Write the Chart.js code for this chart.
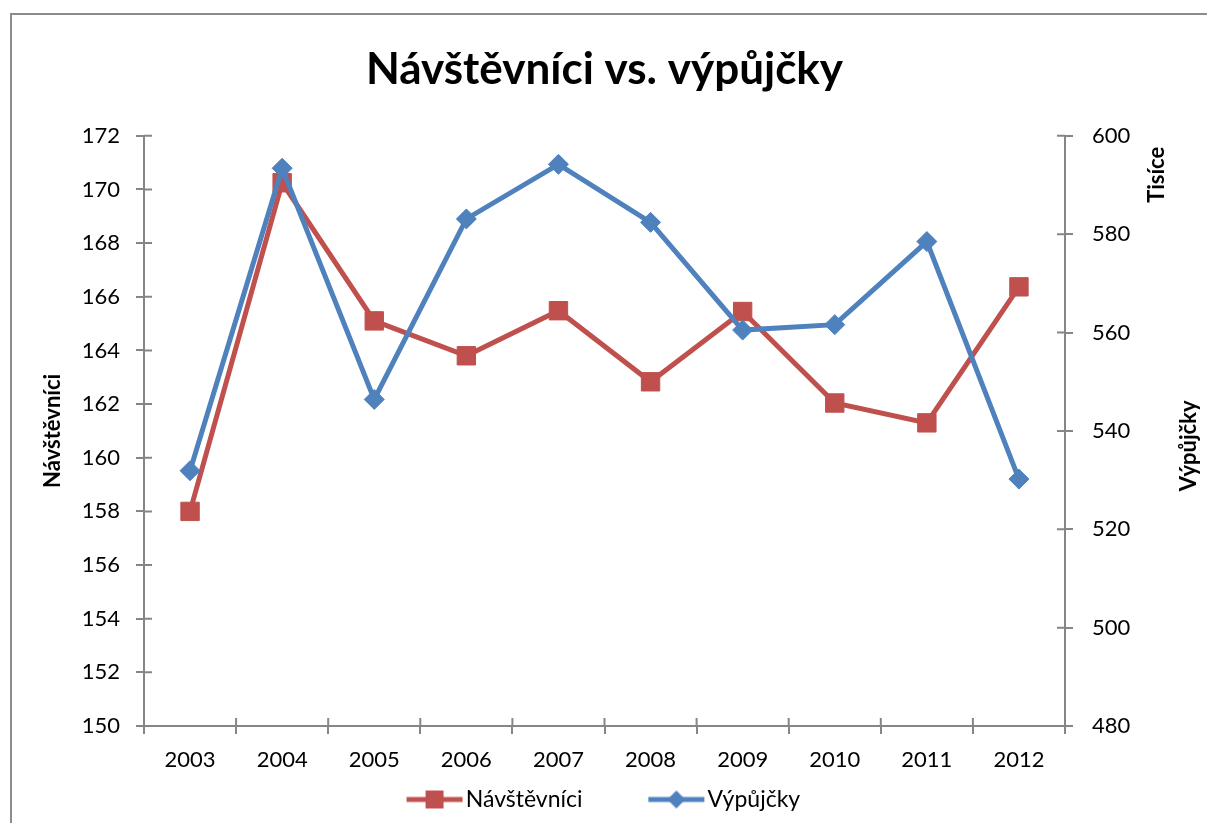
<!DOCTYPE html>
<html>
<head>
<meta charset="utf-8">
<script src="https://cdn.jsdelivr.net/npm/chart.js@4.4.1/dist/chart.umd.min.js"></script>
<style>
  html, body { margin: 0; padding: 0; background: #fff; overflow: hidden; width: 1207px; height: 823px; }
  #wrap { position: absolute; left: 0; top: 0; width: 1207px; height: 823px; }
  #frame { position: absolute; left: 10px; top: 13px; width: 1400px; height: 1000px; border: 2px solid #8c8c8c; box-sizing: border-box; pointer-events: none; }
</style>
</head>
<body>
<div id="wrap"><canvas id="c" width="1207" height="823"></canvas></div>
<div id="frame"></div>
<script>
// ---- data ----
const years = ['2003','2004','2005','2006','2007','2008','2009','2010','2011','2012'];
const visitors = [158.0, 170.25, 165.1, 163.8, 165.48, 162.83, 165.45, 162.04, 161.3, 166.37];
const loans = [531.9, 593.4, 546.4, 583.1, 594.2, 582.4, 560.5, 561.6, 578.5, 530.2]; // in thousands
const chartTitle = 'Návštěvníci vs. výpůjčky';
const seriesNames = ['Návštěvníci', 'Výpůjčky'];
const leftAxisTitle = 'Návštěvníci';
const rightAxisTitle = 'Výpůjčky';
const rightAxisUnit = 'Tisíce';

const RED = '#C0504D';
const BLUE = '#4F81BD';
const AXIS = '#868686';
const FONT = 'Lato';

Chart.defaults.font.family = FONT;
Chart.defaults.color = '#000';

function legendIcon(color, kind) {
  const cv = document.createElement('canvas');
  cv.width = 120; cv.height = 22;
  const g = cv.getContext('2d');
  const mx = 91, my = 11;
  g.strokeStyle = color; g.lineWidth = 5;
  g.beginPath(); g.moveTo(mx - 28, my); g.lineTo(mx + 28, my); g.stroke();
  g.fillStyle = color;
  if (kind === 'rect') {
    g.fillRect(mx - 9, my - 9, 18, 18);
  } else {
    g.beginPath();
    g.moveTo(mx, my - 9); g.lineTo(mx + 9, my); g.lineTo(mx, my + 9); g.lineTo(mx - 9, my); g.closePath(); g.fill();
  }
  return cv;
}
const icons = [legendIcon(RED, 'rect'), legendIcon(BLUE, 'diamond')];

const crossTicks = {
  id: 'crossTicks',
  beforeDatasetsDraw(chart) {
    const ctx = chart.ctx;
    const {x, y, y2} = chart.scales;
    ctx.save();
    ctx.strokeStyle = AXIS; ctx.lineWidth = 2;
    ctx.beginPath();
    y.ticks.forEach(t => { const py = y.getPixelForValue(t.value); ctx.moveTo(y.right, py); ctx.lineTo(y.right + 8, py); });
    y2.ticks.forEach(t => { const py = y2.getPixelForValue(t.value); ctx.moveTo(y2.left, py); ctx.lineTo(y2.left - 8, py); });
    for (let i = 0; i <= years.length; i++) {
      const px = x.getPixelForValue(i - 0.5);
      ctx.moveTo(px, x.top); ctx.lineTo(px, x.top - 8);
    }
    ctx.stroke();
    ctx.restore();
  }
};

const rightTitles = {
  id: 'rightTitles',
  afterDraw(chart) {
    const ctx = chart.ctx;
    const a = chart.chartArea;
    ctx.save();
    ctx.fillStyle = '#000';
    ctx.font = 'bold 22px ' + FONT;
    ctx.textAlign = 'center';
    ctx.textBaseline = 'middle';
    const drawRot = (txt, cx, cy) => {
      ctx.save(); ctx.translate(cx, cy); ctx.rotate(-Math.PI / 2); ctx.fillText(txt, 0, 0); ctx.restore();
    };
    drawRot(rightAxisUnit, a.right + 92, a.top + 39);
    drawRot(rightAxisTitle, a.right + 124, (a.top + a.bottom) / 2 + 15);
    ctx.restore();
  }
};

new Chart(document.getElementById('c'), {
  type: 'line',
  data: {
    labels: years,
    datasets: [
      {
        label: seriesNames[0], data: visitors, yAxisID: 'y', order: 2,
        borderColor: RED, backgroundColor: RED, borderWidth: 5, tension: 0,
        pointStyle: 'rect', pointRadius: 13, pointHoverRadius: 13,
        pointBackgroundColor: RED, pointBorderColor: RED, pointBorderWidth: 1
      },
      {
        label: seriesNames[1], data: loans, yAxisID: 'y2', order: 1,
        borderColor: BLUE, backgroundColor: BLUE, borderWidth: 5, tension: 0,
        pointStyle: 'rectRot', pointRadius: 10, pointHoverRadius: 10,
        pointBackgroundColor: BLUE, pointBorderColor: BLUE, pointBorderWidth: 1
      }
    ]
  },
  options: {
    responsive: false,
    animation: false,
    layout: { padding: { left: 0, right: 54, top: 0, bottom: 2 } },
    plugins: {
      tooltip: { enabled: false },
      title: {
        display: true, text: chartTitle, color: '#000', fullSize: false,
        font: { size: 44, weight: 'bold', family: FONT },
        padding: { top: 43, bottom: 40 }
      },
      legend: {
        position: 'bottom',
        labels: {
          usePointStyle: true, pointStyleWidth: 101.5, padding: 12,
          font: { size: 23, family: FONT }, color: '#000',
          generateLabels(chart) {
            return chart.data.datasets.map((ds, i) => ({
              text: ds.label, pointStyle: icons[i], fillStyle: ds.borderColor,
              strokeStyle: ds.borderColor, lineWidth: 0, hidden: false, datasetIndex: i, fontColor: '#000'
            }));
          }
        }
      }
    },
    scales: {
      x: {
        type: 'category', offset: true,
        grid: { display: true, drawOnChartArea: false, drawTicks: true, tickLength: 8, color: AXIS, lineWidth: 2, offset: true },
        border: { display: true, color: AXIS, width: 2 },
        ticks: { font: { size: 22 }, color: '#000', padding: 13, maxRotation: 0, autoSkip: false },
        afterFit(s) { s.height = 50; }
      },
      y: {
        position: 'left', min: 150, max: 172,
        grid: { display: true, drawOnChartArea: false, drawTicks: true, tickLength: 8, color: AXIS, lineWidth: 2 },
        border: { display: true, color: AXIS, width: 2 },
        ticks: { stepSize: 2, font: { size: 22 }, color: '#000', padding: 16 },
        title: { display: true, text: leftAxisTitle, color: '#000', font: { size: 22, weight: 'bold' }, padding: { top: 40, bottom: 0 } },
        afterFit(s) { s.width = 144; }
      },
      y2: {
        position: 'right', min: 480, max: 600,
        grid: { display: true, drawOnChartArea: false, drawTicks: true, tickLength: 8, color: AXIS, lineWidth: 2 },
        border: { display: true, color: AXIS, width: 2 },
        ticks: { stepSize: 20, font: { size: 22 }, color: '#000', padding: 19 },
        afterFit(s) { s.width = 88; }
      }
    }
  },
  plugins: [crossTicks, rightTitles]
});
</script>
</body>
</html>
